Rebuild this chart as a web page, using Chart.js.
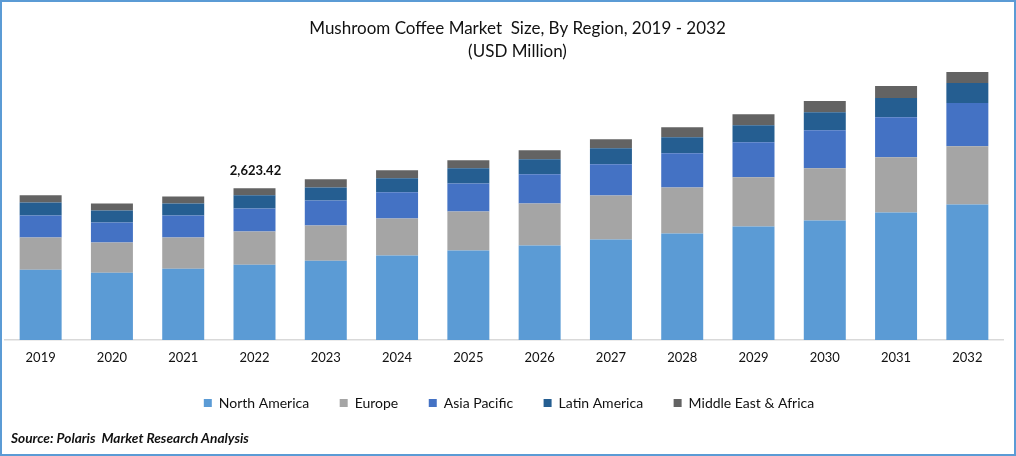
<!DOCTYPE html>
<html>
<head>
<meta charset="utf-8">
<title>Mushroom Coffee Market Size</title>
<script src="https://cdn.jsdelivr.net/npm/chart.js@4/dist/chart.umd.min.js"></script>
<style>
  html, body { margin: 0; padding: 0; background: #fff; }
  #wrap { position: relative; width: 1016px; height: 456px; overflow: hidden; }
  #frame { position: absolute; left: 0; top: 0; width: 1012px; height: 452px; border: 2px solid #5b9bd5; pointer-events: none; }
  #source { position: absolute; left: 11px; top: 429px; font: italic bold 13.7px Lato, sans-serif; color: #111; white-space: pre; }
</style>
</head>
<body>
<div id="wrap">
  <canvas id="chart" width="1016" height="456"></canvas>
  <div id="frame"></div>
  <div id="source">Source: Polaris  Market Research Analysis</div>
</div>
<script>
// Data
const years = ['2019', '2020', '2021', '2022', '2023', '2024', '2025', '2026', '2027', '2028', '2029', '2030', '2031', '2032'];
const northAmerica = [1216, 1164, 1233, 1303, 1372, 1459, 1546, 1633, 1737, 1841, 1963, 2067, 2206, 2345];
const europe = [556, 521, 538, 573, 608, 643, 677, 730, 764, 799, 851, 903, 955, 1007];
const asiaPacific = [382, 347, 382, 400, 434, 452, 486, 504, 538, 591, 608, 660, 695, 747];
const latinAmerica = [226, 208, 208, 226, 226, 243, 261, 261, 278, 278, 295, 313, 330, 347];
const middleEastAfrica = [122, 122, 122, 121.42, 139, 139, 139, 156, 156, 174, 191, 191, 208, 191];
const calloutIndex = 3;
const calloutText = '2,623.42';

const FONT = 'Lato, sans-serif';
const TEXT = '#111';

// Small label above the 2022 stack, placed through the chart's own scales
const calloutPlugin = {
  id: 'callout',
  afterDatasetsDraw(chart) {
    const total = chart.data.datasets.reduce((sum, d) => sum + d.data[calloutIndex], 0);
    const { ctx, scales } = chart;
    ctx.save();
    ctx.font = 'bold 13px ' + FONT;
    ctx.fillStyle = TEXT;
    ctx.textAlign = 'center';
    ctx.textBaseline = 'middle';
    ctx.fillText(calloutText, scales.x.getPixelForValue(calloutIndex) + 1, scales.y.getPixelForValue(total) - 18);
    ctx.restore();
  }
};

// The reference has its title and legend a bit off the chart's centre
const nudgeBoxes = {
  id: 'nudgeBoxes',
  afterLayout(chart) {
    chart.titleBlock.left += 27;
    chart.legend.left += 10;
    chart.legend.top -= 10;
    chart.legend.bottom -= 10;
  }
};

new Chart(document.getElementById('chart'), {
  type: 'bar',
  data: {
    labels: years,
    datasets: [
      { label: 'North America', data: northAmerica, backgroundColor: '#5b9bd5' },
      { label: 'Europe', data: europe, backgroundColor: '#a5a5a5' },
      { label: 'Asia Pacific', data: asiaPacific, backgroundColor: '#4472c4' },
      { label: 'Latin America', data: latinAmerica, backgroundColor: '#255e91' },
      { label: 'Middle East & Africa', data: middleEastAfrica, backgroundColor: '#636363' }
    ]
  },
  options: {
    responsive: false,
    animation: false,
    layout: { padding: { left: 5, right: 13, top: 0, bottom: 26 } },
    datasets: { bar: { categoryPercentage: 0.589, barPercentage: 1 } },
    plugins: {
      title: {
        display: true,
        text: ['Mushroom Coffee Market  Size, By Region, 2019 - 2032', '(USD Million)'],
        color: TEXT,
        font: { family: FONT, size: 17, weight: 'normal', lineHeight: 1.35 },
        padding: { top: 17.5, bottom: 1.6 }
      },
      legend: {
        display: true,
        position: 'bottom',
        labels: { boxWidth: 8, boxHeight: 8, padding: 30.5, color: TEXT, font: { family: FONT, size: 14 } }
      },
      tooltip: { enabled: false }
    },
    scales: {
      x: {
        stacked: true,
        grid: { display: false, drawTicks: false },
        border: { display: true, color: '#d9d9d9', width: 1.5 },
        ticks: { color: TEXT, padding: 10, maxRotation: 0, font: { family: FONT, size: 13 } }
      },
      y: {
        stacked: true,
        display: false,
        min: 0,
        max: 4759
      }
    }
  },
  plugins: [calloutPlugin, nudgeBoxes]
});
</script>
</body>
</html>
